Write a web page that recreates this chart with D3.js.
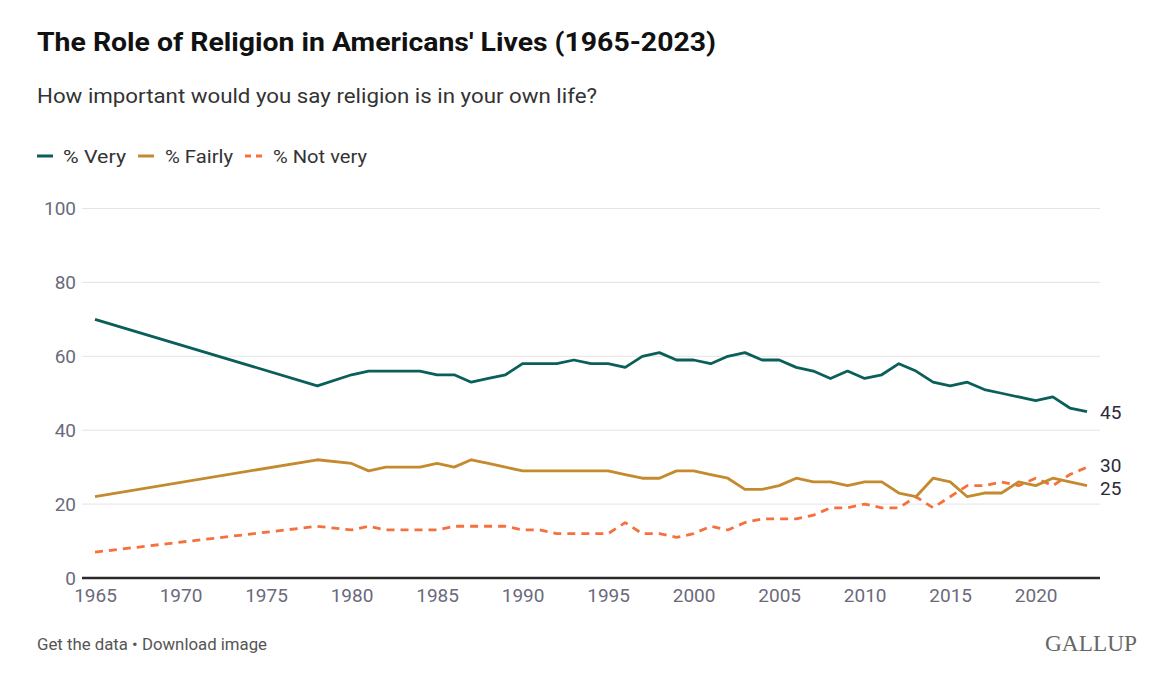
<!DOCTYPE html>
<html>
<head>
<meta charset="utf-8">
<script src="https://cdn.jsdelivr.net/npm/d3@7"></script>
<style>
  html, body { margin: 0; padding: 0; background: #fff; }
  svg { display: block; font-family: Roboto, "Noto Sans", sans-serif; }
</style>
</head>
<body>
<svg id="chart" width="1168" height="683"></svg>
<script>
const years = [1965, 1978,
  1980, 1981, 1982, 1983, 1984, 1985, 1986, 1987, 1988, 1989,
  1990, 1991, 1992, 1993, 1994, 1995, 1996, 1997, 1998, 1999,
  2000, 2001, 2002, 2003, 2004, 2005, 2006, 2007, 2008, 2009,
  2010, 2011, 2012, 2013, 2014, 2015, 2016, 2017, 2018, 2019,
  2020, 2021, 2022, 2023];
const veryValues = [70, 52,
  55, 56, 56, 56, 56, 55, 55, 53, 54, 55,
  58, 58, 58, 59, 58, 58, 57, 60, 61, 59,
  59, 58, 60, 61, 59, 59, 57, 56, 54, 56,
  54, 55, 58, 56, 53, 52, 53, 51, 50, 49,
  48, 49, 46, 45];
const fairlyValues = [22, 32,
  31, 29, 30, 30, 30, 31, 30, 32, 31, 30,
  29, 29, 29, 29, 29, 29, 28, 27, 27, 29,
  29, 28, 27, 24, 24, 25, 27, 26, 26, 25,
  26, 26, 23, 22, 27, 26, 22, 23, 23, 26,
  25, 27, 26, 25];
const notVeryValues = [7, 14,
  13, 14, 13, 13, 13, 13, 14, 14, 14, 14,
  13, 13, 12, 12, 12, 12, 15, 12, 12, 11,
  12, 14, 13, 15, 16, 16, 16, 17, 19, 19,
  20, 19, 19, 22, 19, 22, 25, 25, 26, 25,
  27, 25, 28, 30];
const seriesNames = ["% Very", "% Fairly", "% Not very"];
const xTicks = [1965, 1970, 1975, 1980, 1985, 1990, 1995, 2000, 2005, 2010, 2015, 2020];
const yTicks = [0, 20, 40, 60, 80, 100];
const titleText = "The Role of Religion in Americans' Lives (1965-2023)";
const subtitleText = "How important would you say religion is in your own life?";

const colors = ["#0b5f5b", "#c48a2e", "#f5703d"];
const series = [veryValues, fairlyValues, notVeryValues].map((vals, i) => ({
  name: seriesNames[i], color: colors[i], dashed: i === 2,
  points: years.map((y, j) => ({ year: y, value: vals[j] }))
}));

const svg = d3.select("#chart");
const x = d3.scaleLinear().domain([1965, 2023]).range([95, 1087]);
const y = d3.scaleLinear().domain([0, 100]).range([578, 208.5]);
const gridLeft = 82, gridRight = 1100;

// Title & subtitle
svg.append("text").attr("x", 37).attr("y", 51)
  .attr("font-size", 26).attr("font-weight", 700).attr("fill", "#111")
  .attr("textLength", 679).attr("lengthAdjust", "spacingAndGlyphs")
  .text(titleText);
svg.append("text").attr("x", 37).attr("y", 103)
  .attr("font-size", 20.5).attr("fill", "#333")
  .attr("textLength", 560).attr("lengthAdjust", "spacingAndGlyphs")
  .text(subtitleText);

// Legend
const legendItems = [
  { x: 37, tx: 63, w: 63 }, { x: 138, tx: 165, w: 68 }, { x: 245, tx: 273, w: 94 }
];
series.forEach((s, i) => {
  const li = legendItems[i];
  const g = svg.append("g");
  g.append("line").attr("x1", li.x).attr("x2", li.x + (s.dashed ? 20 : 16))
    .attr("y1", 156).attr("y2", 156)
    .attr("stroke", s.color).attr("stroke-width", 3)
    .attr("stroke-dasharray", s.dashed ? "6,5" : null);
  g.append("text").attr("x", li.tx).attr("y", 162.5)
    .attr("font-size", 18.5).attr("fill", "#333")
    .attr("textLength", li.w).attr("lengthAdjust", "spacingAndGlyphs")
    .text(s.name);
});

// Gridlines and y labels
const yAxis = d3.axisLeft(y).tickValues(yTicks).tickSize(0).tickPadding(0);
const yG = svg.append("g").attr("transform", `translate(${gridLeft},0)`).call(yAxis);
yG.select(".domain").remove();
yG.selectAll("text").attr("x", -6).attr("font-size", 19)
  .attr("font-family", "Roboto, sans-serif").attr("fill", "#6a6a7c");
svg.append("g").selectAll("line").data(yTicks.filter(t => t > 0)).join("line")
  .attr("x1", gridLeft).attr("x2", gridRight)
  .attr("y1", d => y(d)).attr("y2", d => y(d))
  .attr("stroke", "#e4e4e4").attr("stroke-width", 1);

// X axis
const xAxis = d3.axisBottom(x).tickValues(xTicks).tickFormat(d3.format("d")).tickSize(0).tickPadding(0);
const xG = svg.append("g").attr("transform", `translate(0,${y(0)})`).call(xAxis);
xG.select(".domain").remove();
xG.selectAll("text").attr("y", 11).attr("font-size", 19)
  .attr("font-family", "Roboto, sans-serif").attr("fill", "#6a6a7c");
svg.append("line").attr("x1", gridLeft).attr("x2", gridRight)
  .attr("y1", y(0)).attr("y2", y(0)).attr("stroke", "#2a2a2a").attr("stroke-width", 2.5);

// Lines
const line = d3.line().x(d => x(d.year)).y(d => y(d.value));
series.slice().reverse().forEach(s => {
  svg.append("path").datum(s.points)
    .attr("d", line).attr("fill", "none")
    .attr("stroke", s.color).attr("stroke-width", 2.8)
    .attr("stroke-linejoin", "round")
    .attr("stroke-dasharray", s.dashed ? "8,6" : null);
});

// End labels
const endOffsets = [0, 2, -2];
series.forEach((s, i) => {
  const last = s.points[s.points.length - 1];
  svg.append("text").attr("x", 1100).attr("y", y(last.value) + endOffsets[i] + 7)
    .attr("font-size", 19).attr("fill", "#2b2b3a").text(last.value);
});

// Footer
svg.append("text").attr("x", 37).attr("y", 650)
  .attr("font-size", 16).attr("fill", "#555")
  .attr("textLength", 230).attr("lengthAdjust", "spacingAndGlyphs")
  .text("Get the data \u2022 Download image");
svg.append("text").attr("x", 1045).attr("y", 651)
  .attr("font-family", "'Liberation Serif', 'DejaVu Serif', serif")
  .attr("font-size", 23.5).attr("fill", "#666")
  .attr("textLength", 92).attr("lengthAdjust", "spacingAndGlyphs")
  .text("GALLUP");
</script>
</body>
</html>
